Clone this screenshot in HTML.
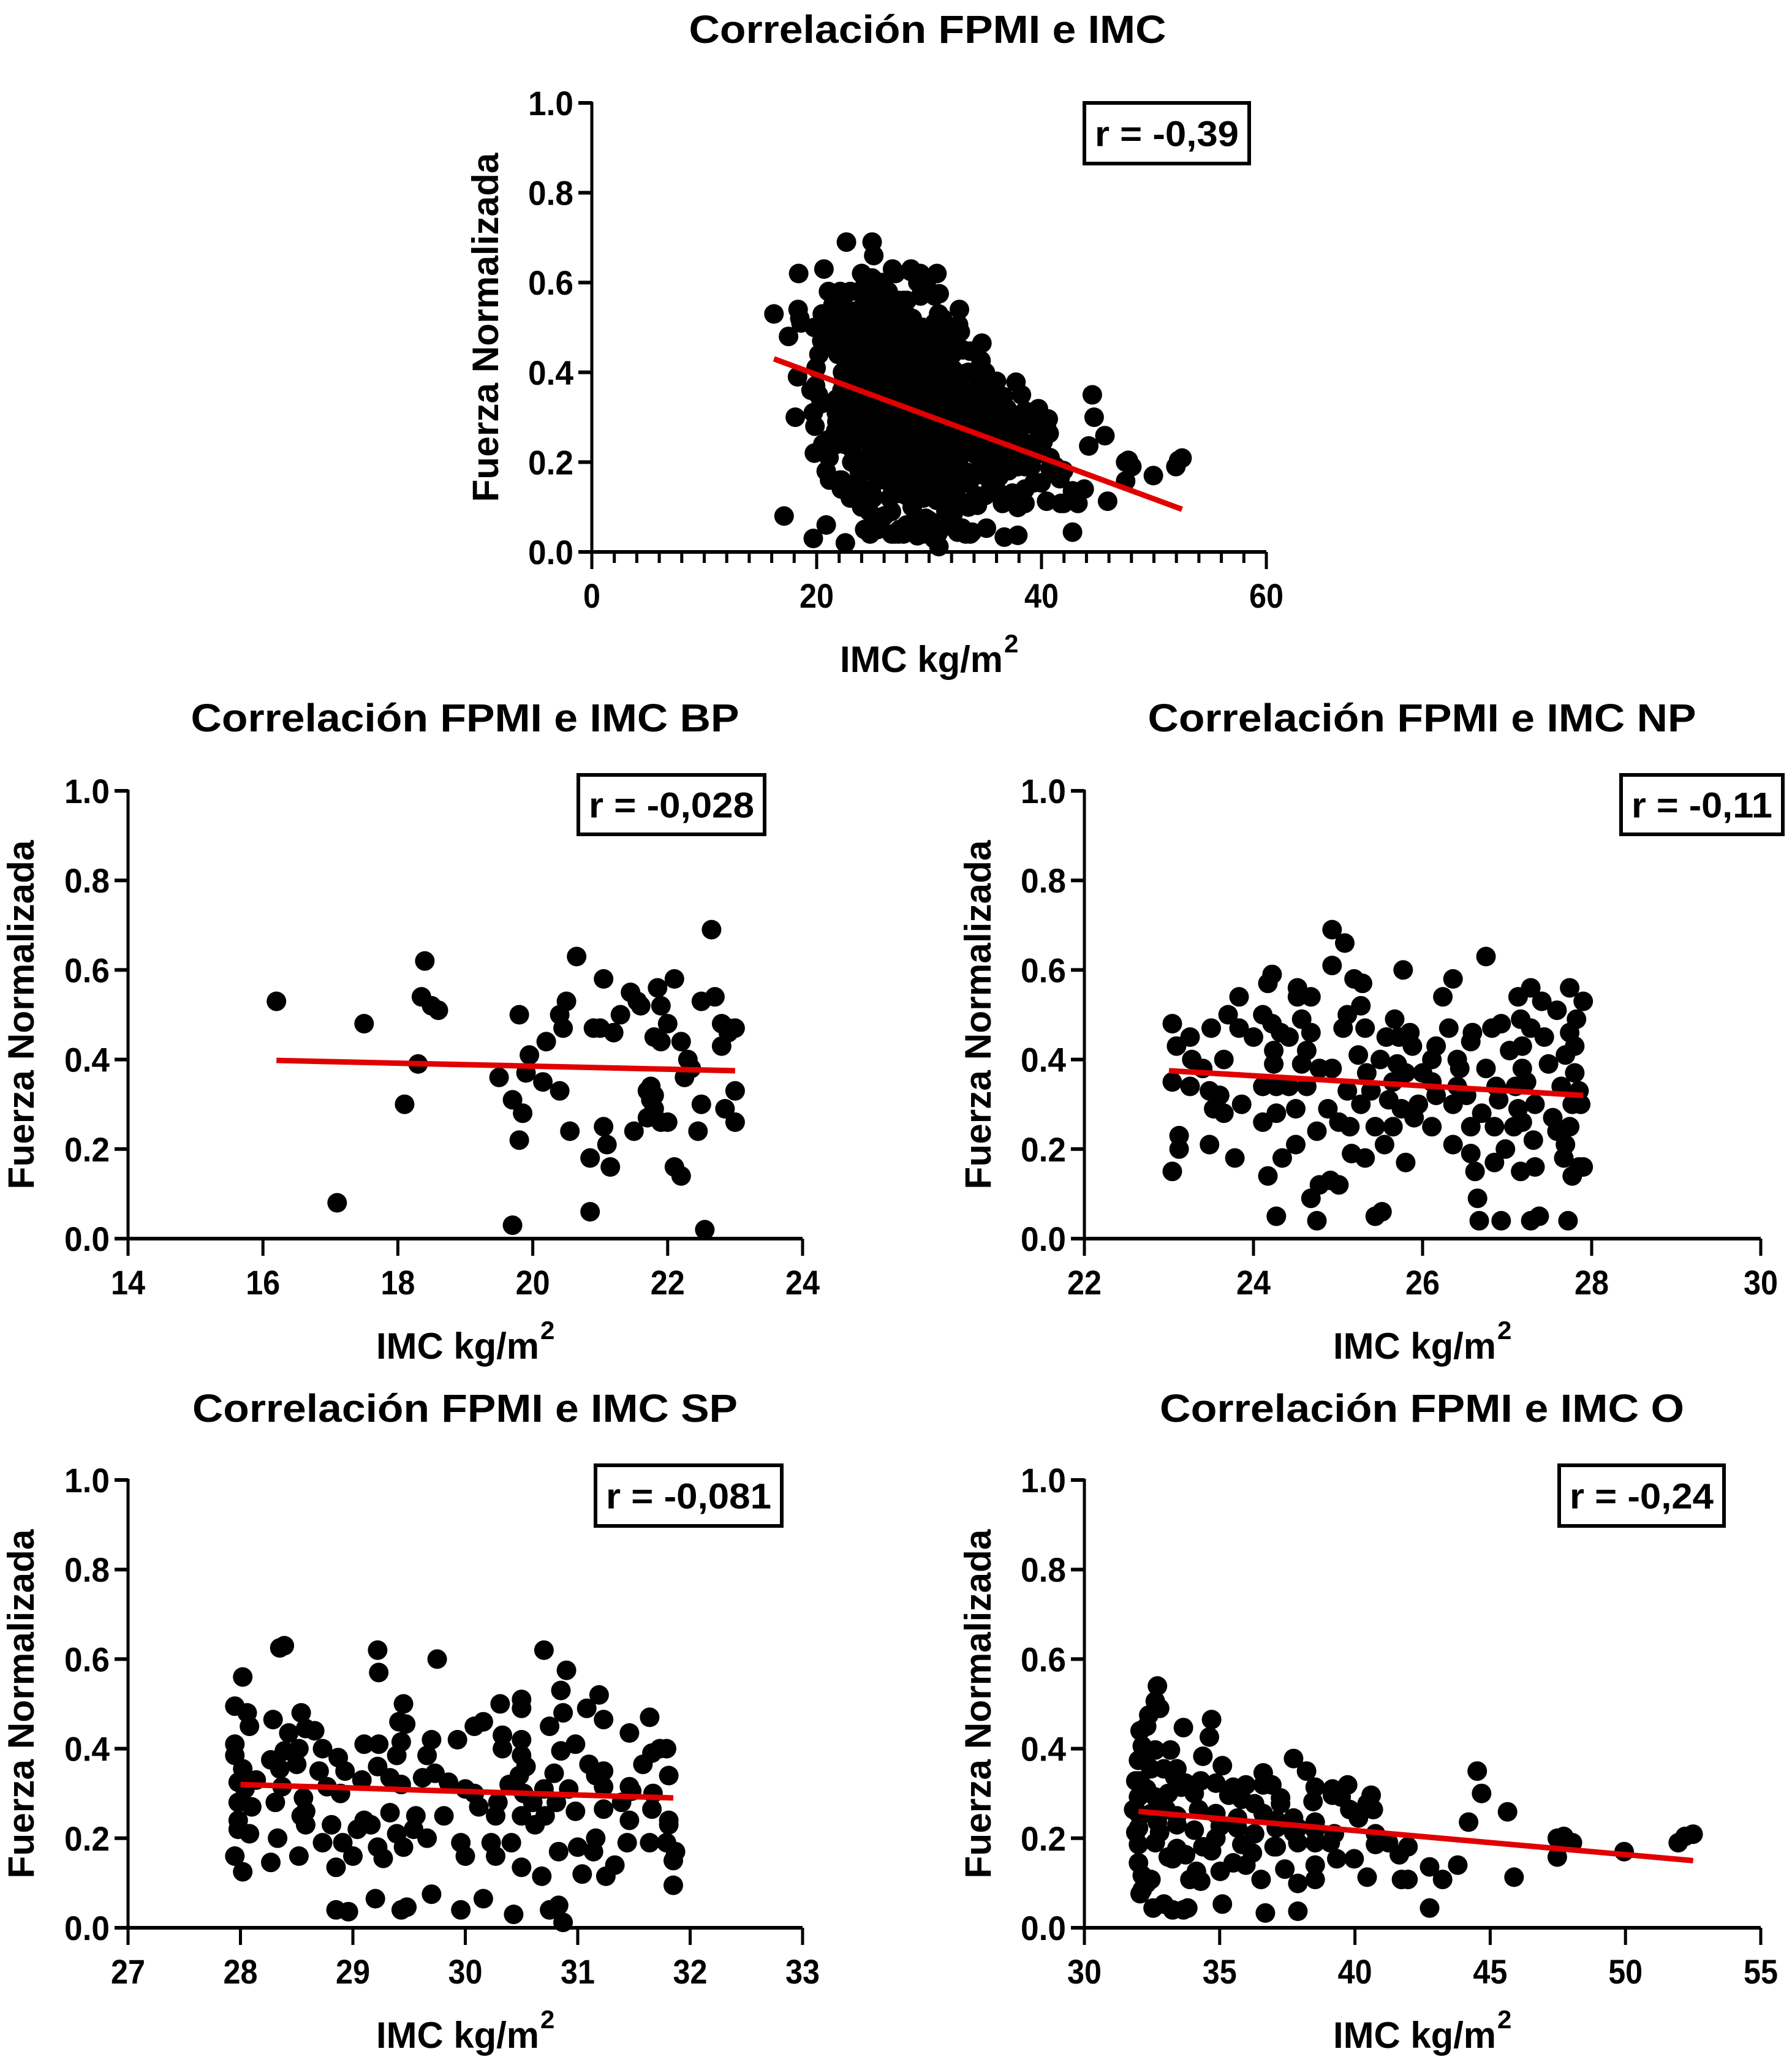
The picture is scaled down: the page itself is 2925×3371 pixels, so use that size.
<!DOCTYPE html>
<html><head><meta charset="utf-8"><title>Correlación FPMI e IMC</title>
<style>
html,body{margin:0;padding:0;background:#fff;}
svg{display:block;}
text{font-family:"Liberation Sans",Arial,sans-serif;font-weight:bold;fill:#000;}
</style></head>
<body>
<svg id="fig" xmlns="http://www.w3.org/2000/svg" width="2925" height="3371" viewBox="0 0 2925 3371"></svg>
<script>
const yTicks = [0, 0.2, 0.4, 0.6, 0.8, 1.0];
const yTickLabels = ["0.0", "0.2", "0.4", "0.6", "0.8", "1.0"];
const xTicksMain = [0, 20, 40, 60];
const xTicksBP = [14, 16, 18, 20, 22, 24];
const xTicksNP = [22, 24, 26, 28, 30];
const xTicksSP = [27, 28, 29, 30, 31, 32, 33];
const xTicksO = [30, 35, 40, 45, 50, 55];
const rLabels = ["r = -0,39", "r = -0,028", "r = -0,11", "r = -0,081", "r = -0,24"];
const titles = ["Correlación FPMI e IMC", "Correlación FPMI e IMC BP", "Correlación FPMI e IMC NP", "Correlación FPMI e IMC SP", "Correlación FPMI e IMC O"];
const fitMain = [16.2, 0.43, 52.5, 0.095];
const fitBP = [16.2, 0.398, 23.0, 0.375];
const fitNP = [23.0, 0.375, 27.9, 0.32];
const fitSP = [28.0, 0.32, 31.85, 0.29];
const fitO = [32.0, 0.26, 52.5, 0.15];

const bpPoints = [[16.2,.53],[17.1,.08],[17.5,.48],[18.1,.30],[18.3,.39],[18.35,.54],[18.4,.62],[18.5,.52],[18.6,.51],[19.5,.36],[19.7,.03],[19.7,.31],[19.8,.22],[19.8,.50],[19.85,.28],[19.9,.37],[19.95,.41],[20.15,.35],[20.2,.44],[20.4,.33],[20.4,.50],[20.45,.47],[20.5,.53],[20.55,.24],[20.65,.63],[20.85,.18],[20.85,.06],[20.9,.47],[21.0,.47],[21.05,.25],[21.05,.58],[21.1,.21],[21.15,.16],[21.2,.46],[21.3,.50],[21.45,.55],[21.5,.24],[21.55,.53],[21.6,.52],[21.7,.33],[21.7,.27],[21.75,.31],[21.8,.45],[21.8,.32],[21.85,.56],[21.9,.44],[21.9,.52],[21.9,.26],[22.0,.48],[22.0,.26],[22.1,.58],[22.1,.16],[22.2,.14],[22.2,.44],[22.25,.36],[22.3,.40],[22.35,.38],[22.45,.24],[22.5,.53],[22.5,.30],[22.55,.02],[22.65,.69],[22.7,.54],[22.8,.43],[22.8,.48],[22.85,.29],[22.9,.46],[23.0,.47],[23.0,.33],[23.0,.26],[21.75,.34],[21.8,.29],[22.9,.47]];

const npPoints = [[23.04,.48],[23.25,.45],[23.09,.43],[23.27,.40],[23.4,.38],[23.04,.35],[23.25,.34],[23.48,.33],[23.6,.32],[23.53,.29],[23.65,.28],[23.86,.30],[23.12,.23],[23.12,.20],[23.48,.21],[23.78,.18],[23.04,.15],[23.5,.47],[23.65,.40],[23.7,.50],[23.83,.54],[23.83,.47],[24.0,.45],[24.11,.50],[24.22,.59],[24.17,.57],[24.22,.48],[24.32,.46],[24.24,.42],[24.42,.45],[24.24,.39],[24.11,.34],[24.27,.34],[24.42,.34],[24.11,.26],[24.27,.28],[24.5,.29],[24.52,.56],[24.52,.54],[24.68,.54],[24.57,.49],[24.68,.46],[24.63,.42],[24.57,.39],[24.63,.34],[24.5,.21],[24.34,.18],[24.17,.14],[24.27,.05],[24.68,.09],[24.78,.12],[24.91,.13],[25.01,.12],[24.75,.04],[24.75,.24],[24.88,.29],[24.93,.38],[24.78,.38],[25.01,.26],[25.14,.25],[25.11,.33],[25.06,.47],[25.11,.50],[24.93,.69],[25.08,.66],[24.93,.61],[25.19,.58],[25.29,.57],[25.27,.52],[25.32,.47],[25.24,.41],[25.34,.37],[25.39,.33],[25.27,.30],[25.44,.25],[25.55,.21],[25.16,.19],[25.32,.18],[25.44,.05],[25.52,.06],[25.8,.17],[25.77,.60],[25.67,.49],[25.57,.45],[25.72,.45],[25.85,.46],[25.5,.40],[25.7,.39],[25.88,.43],[25.65,.35],[25.8,.37],[26.0,.37],[25.6,.31],[25.75,.29],[25.9,.27],[25.65,.25],[26.11,.35],[26.16,.32],[26.11,.25],[25.95,.30],[26.16,.43],[26.11,.40],[26.31,.47],[26.24,.54],[26.36,.58],[26.41,.40],[26.44,.38],[26.41,.34],[26.36,.30],[26.57,.25],[26.36,.21],[26.57,.19],[26.62,.15],[26.65,.09],[26.67,.04],[26.59,.46],[26.57,.44],[26.75,.63],[26.52,.32],[26.7,.28],[26.75,.38],[26.82,.47],[26.93,.48],[26.87,.34],[26.9,.31],[26.85,.25],[26.98,.20],[26.85,.17],[26.93,.04],[27.03,.42],[27.13,.54],[27.28,.56],[27.41,.53],[27.16,.49],[27.28,.47],[27.18,.43],[27.18,.38],[27.1,.34],[27.23,.35],[27.13,.29],[27.33,.30],[27.08,.25],[27.18,.26],[27.31,.22],[27.33,.16],[27.16,.15],[27.38,.05],[27.28,.04],[27.44,.45],[27.49,.39],[27.59,.51],[27.74,.56],[27.9,.53],[27.82,.49],[27.74,.46],[27.8,.43],[27.69,.41],[27.8,.37],[27.64,.34],[27.85,.33],[27.77,.30],[27.54,.27],[27.74,.25],[27.59,.24],[27.69,.21],[27.67,.18],[27.85,.16],[27.77,.14],[27.72,.04],[27.9,.16],[27.87,.30]];

const spPoints = [[28.02,.56],[27.95,.495],[28.06,.48],[28.08,.45],[27.95,.41],[27.95,.385],[28.02,.355],[27.98,.325],[28.04,.31],[27.98,.28],[28.1,.27],[27.98,.24],[27.98,.22],[28.08,.21],[27.95,.16],[28.02,.125],[28.14,.33],[28.35,.625],[28.39,.63],[28.29,.465],[28.43,.435],[28.54,.48],[28.58,.445],[28.66,.44],[28.52,.40],[28.73,.40],[28.27,.375],[28.39,.395],[28.35,.355],[28.5,.365],[28.37,.315],[28.31,.28],[28.56,.29],[28.58,.26],[28.54,.25],[28.58,.23],[28.33,.20],[28.27,.146],[28.52,.16],[28.7,.35],[28.77,.315],[28.87,.38],[28.93,.35],[28.89,.30],[28.81,.23],[28.73,.19],[28.91,.19],[28.85,.135],[29.0,.16],[28.85,.04],[28.96,.036],[29.1,.41],[29.23,.41],[29.08,.33],[29.22,.36],[29.1,.24],[29.04,.22],[29.16,.23],[29.22,.18],[29.27,.155],[29.2,.065],[29.22,.62],[29.23,.57],[29.45,.50],[29.41,.46],[29.47,.455],[29.43,.415],[29.39,.385],[29.33,.335],[29.43,.32],[29.33,.257],[29.39,.21],[29.45,.18],[29.48,.046],[29.43,.04],[29.56,.25],[29.54,.22],[29.66,.20],[29.7,.42],[29.66,.385],[29.62,.335],[29.73,.345],[29.85,.325],[29.75,.60],[29.7,.075],[29.81,.25],[29.93,.42],[29.96,.19],[30.0,.16],[29.96,.04],[30.0,.31],[30.08,.30],[30.12,.27],[30.08,.45],[30.16,.46],[30.23,.19],[30.27,.16],[30.27,.25],[30.29,.28],[30.16,.065],[30.31,.50],[30.33,.43],[30.33,.40],[30.39,.32],[30.41,.19],[30.43,.03],[30.5,.51],[30.5,.49],[30.5,.42],[30.5,.385],[30.54,.36],[30.48,.34],[30.52,.30],[30.5,.25],[30.6,.28],[30.62,.23],[30.5,.135],[30.7,.62],[30.75,.45],[30.7,.31],[30.71,.25],[30.68,.115],[30.75,.04],[30.83,.05],[30.87,.012],[30.9,.575],[30.85,.53],[30.87,.48],[30.85,.395],[30.79,.345],[30.81,.28],[30.92,.31],[30.98,.41],[30.98,.26],[30.83,.17],[31.0,.18],[31.04,.12],[31.08,.49],[31.19,.52],[31.1,.365],[31.16,.34],[31.23,.35],[31.23,.315],[31.23,.265],[31.16,.20],[31.14,.17],[31.33,.14],[31.25,.115],[31.23,.465],[31.39,.28],[31.46,.315],[31.48,.305],[31.46,.24],[31.44,.19],[31.46,.435],[31.64,.47],[31.58,.365],[31.66,.39],[31.73,.40],[31.79,.40],[31.81,.34],[31.67,.30],[31.66,.265],[31.81,.24],[31.81,.23],[31.64,.19],[31.79,.19],[31.87,.17],[31.85,.15],[31.85,.095]];

const oPoints = [[32.7,.54],[32.62,.506],[32.78,.49],[32.38,.475],[32.06,.44],[32.3,.45],[33.66,.447],[34.7,.465],[34.62,.426],[32.14,.406],[32.62,.397],[33.18,.397],[32.0,.374],[32.46,.355],[32.94,.355],[34.38,.383],[35.1,.362],[33.34,.337],[33.74,.323],[34.3,.328],[34.86,.323],[32.06,.328],[32.3,.31],[32.0,.292],[32.62,.292],[33.1,.30],[34.06,.30],[35.34,.296],[35.97,.319],[36.61,.346],[36.61,.319],[37.73,.378],[38.21,.35],[38.53,.314],[39.17,.31],[39.73,.319],[40.6,.296],[39.49,.292],[38.45,.282],[37.25,.277],[36.29,.277],[35.82,.287],[32.0,.255],[32.46,.255],[33.42,.25],[34.22,.264],[34.86,.255],[35.66,.245],[36.61,.255],[37.09,.24],[37.73,.245],[38.53,.236],[39.81,.264],[40.13,.245],[40.68,.264],[32.0,.223],[32.78,.213],[33.42,.23],[34.06,.218],[35.02,.227],[35.66,.223],[36.29,.21],[37.09,.223],[37.73,.213],[38.53,.218],[39.24,.21],[40.76,.21],[32.0,.186],[32.62,.19],[33.42,.177],[34.38,.181],[34.86,.20],[35.82,.186],[37.09,.181],[37.89,.19],[38.53,.19],[39.09,.19],[40.76,.186],[41.24,.19],[41.96,.181],[41.64,.163],[33.1,.158],[33.74,.163],[34.7,.172],[36.21,.167],[37.01,.181],[39.33,.154],[39.97,.154],[32.0,.145],[33.26,.154],[35.5,.145],[35.97,.14],[35.02,.126],[38.53,.14],[37.41,.131],[34.14,.126],[32.14,.117],[32.46,.108],[33.9,.108],[34.3,.104],[36.53,.108],[38.53,.108],[37.89,.099],[40.45,.113],[41.72,.108],[41.96,.108],[42.76,.136],[43.24,.108],[43.8,.14],[45.88,.113],[44.2,.236],[44.52,.35],[44.68,.30],[45.64,.259],[47.48,.20],[47.72,.204],[48.04,.19],[47.48,.158],[49.95,.17],[51.95,.19],[52.2,.204],[52.5,.209],[32.06,.076],[32.54,.044],[32.94,.053],[33.26,.04],[33.66,.04],[33.82,.044],[35.1,.053],[36.69,.033],[37.89,.037],[42.76,.044],[32.14,.085],[32.3,.099],[31.9,.213],[31.9,.328],[32.14,.383],[33.42,.355],[33.58,.314],[35.5,.314],[36.93,.319],[37.25,.29],[37.89,.223],[39.17,.296],[40.45,.277],[33.02,.264],[32.7,.236],[31.82,.264]];

// additional points visible only in the overall chart's dense core
const mainExtraPoints = [[21.5,.55],[22.5,.50],[23.5,.52],[24.5,.45],[25.5,.44],[26.5,.50],[27.5,.42],[28.5,.52],[29.5,.46],[30.5,.40],[31.5,.42],[32.5,.38],[33.5,.40],[34.5,.36],[22.5,.40],[23.5,.36],[24.5,.32],[25.5,.28],[26.5,.26],[27.5,.22],[28.5,.20],[29.5,.25],[30.5,.22],[31.5,.26],[32.5,.20],[33.5,.24],[34.5,.21],[35.5,.25],[36.5,.23],[22.5,.30],[23.5,.26],[24.5,.20],[25.5,.16],[26.5,.12],[27.5,.13],[28.5,.10],[29.5,.12],[30.5,.14],[31.5,.09],[32.5,.12],[33.5,.10],[21.8,.24],[22.2,.16],[23.0,.12],[24.0,.10],[26.0,.08],[28.0,.06],[30.0,.07],[31.0,.05],[32.0,.06],[29.0,.30],[28.0,.36],[27.0,.40],[26.0,.48],[30.0,.35],[31.0,.32],[33.0,.30],[34.0,.28],[35.0,.30],[36.0,.33],[37.0,.30],[38.0,.26],[39.0,.24],[40.0,.22],[24.0,.62],[27.0,.62],[29.0,.60],[30.5,.57],[23.0,.58],[25.0,.40],[26.0,.36],[28.0,.30],[29.0,.40],[31.0,.44],[32.0,.48],[33.0,.45],[35.0,.40],[36.0,.38]];

const NS = "http://www.w3.org/2000/svg";
const fig = document.getElementById("fig");
function mk(tag, attrs, parent) {
  const e = document.createElementNS(NS, tag);
  for (const k in attrs) e.setAttribute(k, attrs[k]);
  (parent || fig).appendChild(e);
  return e;
}

function drawChart(c) {
  const g = mk("g", {});
  
  
  const sx = v => c.left + (v - c.xmin) / (c.xmax - c.xmin) * (c.right - c.left);
  const sy = v => c.bottom - v * (c.bottom - c.top);

  const t = mk("text", {x: c.titleX, y: c.titleY, "text-anchor": "middle", "font-size": 64, textLength: c.titleW, lengthAdjust: "spacingAndGlyphs"}, g);
  t.textContent = c.title;
  
  

  const pg = mk("g", {fill: "#000"}, g);
  
  
  c.points.forEach(p => {
    const d = mk("circle", {cx: sx(p[0]).toFixed(1), cy: sy(p[1]).toFixed(1), r: 16}, pg);
    
    
  });

  const fl = mk("line", {x1: sx(c.fit[0]), y1: sy(c.fit[1]), x2: sx(c.fit[2]), y2: sy(c.fit[3]), stroke: "#e00000", "stroke-width": 9}, g);
  
  

  const ya = mk("line", {x1: c.left, y1: c.top - 2, x2: c.left, y2: c.bottom, stroke: "#000", "stroke-width": 5}, g);
  
  
  yTicks.forEach((v, i) => {
    const tk = mk("line", {x1: c.left - 22, y1: sy(v), x2: c.left, y2: sy(v), stroke: "#000", "stroke-width": 6}, g);
    
    
    const tl = mk("text", {x: c.left - 30, y: sy(v) + 20, "text-anchor": "end", "font-size": 56, textLength: 74, lengthAdjust: "spacingAndGlyphs"}, g);
    tl.textContent = yTickLabels[i];
    
    
  });

  const xa = mk("line", {x1: c.left - 22, y1: c.bottom, x2: c.right, y2: c.bottom, stroke: "#000", "stroke-width": 6}, g);
  
  
  if (c.minorStep) {
    for (let v = c.xmin; v <= c.xmax + 1e-9; v += c.minorStep) {
      const mt = mk("line", {x1: sx(v), y1: c.bottom, x2: sx(v), y2: c.bottom + 18, stroke: "#000", "stroke-width": 5}, g);
      
      
    }
  }
  c.xTicks.forEach(v => {
    const tk = mk("line", {x1: sx(v), y1: c.bottom, x2: sx(v), y2: c.bottom + 28, stroke: "#000", "stroke-width": 5}, g);
    
    
    const s = String(v);
    const tl = mk("text", {x: sx(v), y: c.bottom + 91, "text-anchor": "middle", "font-size": 56, textLength: s.length * 28, lengthAdjust: "spacingAndGlyphs"}, g);
    tl.textContent = s;
    
    
  });

  const xt = mk("text", {x: c.xLabelX - 12, y: c.bottom + 196, "text-anchor": "middle", "font-size": 60, textLength: 266, lengthAdjust: "spacingAndGlyphs"}, g);
  xt.textContent = "IMC kg/m";
  
  
  const sup = mk("text", {x: c.xLabelX + 123, y: c.bottom + 164, "font-size": 42}, g);
  sup.textContent = "2";
  
  

  const yc = (c.top + c.bottom) / 2;
  const yt = mk("text", {x: 0, y: 0, "text-anchor": "middle", "font-size": 60, textLength: 570, lengthAdjust: "spacingAndGlyphs", transform: "translate(" + (c.yLabelX + 21) + "," + yc + ") rotate(-90)"}, g);
  yt.textContent = "Fuerza Normalizada";
  
  

  const bx = mk("rect", {x: c.box[0], y: c.box[1], width: c.box[2] - c.box[0], height: c.box[3] - c.box[1], fill: "#fff", stroke: "#000", "stroke-width": 6}, g);
  
  
  const bt = mk("text", {x: (c.box[0] + c.box[2]) / 2, y: (c.box[1] + c.box[3]) / 2 + 21, "text-anchor": "middle", "font-size": 58, textLength: c.box[2] - c.box[0] - 34, lengthAdjust: "spacingAndGlyphs"}, g);
  bt.textContent = c.r;
  
  
}

const allPoints = bpPoints.concat(npPoints, spPoints, oPoints, mainExtraPoints);

drawChart({name: "chart-overall", title: titles[0], titleX: 1514, titleY: 70, titleW: 779,
  left: 966, right: 2067, top: 168, bottom: 901, xmin: 0, xmax: 60, xTicks: xTicksMain, minorStep: 2,
  points: allPoints, fit: fitMain, xLabelX: 1516, yLabelX: 792, box: [1770, 168, 2039, 267], r: rLabels[0]});
drawChart({name: "chart-bp", title: titles[1], titleX: 759, titleY: 1194, titleW: 895,
  left: 209, right: 1310, top: 1291, bottom: 2022, xmin: 14, xmax: 24, xTicks: xTicksBP,
  points: bpPoints, fit: fitBP, xLabelX: 759, yLabelX: 34, box: [944, 1265, 1248, 1362], r: rLabels[1]});
drawChart({name: "chart-np", title: titles[2], titleX: 2321, titleY: 1194, titleW: 895,
  left: 1770, right: 2874, top: 1291, bottom: 2022, xmin: 22, xmax: 30, xTicks: xTicksNP,
  points: npPoints, fit: fitNP, xLabelX: 2321, yLabelX: 1596, box: [2646, 1265, 2910, 1362], r: rLabels[2]});
drawChart({name: "chart-sp", title: titles[3], titleX: 759, titleY: 2321, titleW: 890,
  left: 209, right: 1310, top: 2416, bottom: 3147, xmin: 27, xmax: 33, xTicks: xTicksSP,
  points: spPoints, fit: fitSP, xLabelX: 759, yLabelX: 34, box: [972, 2392, 1276, 2491], r: rLabels[3]});
drawChart({name: "chart-o", title: titles[4], titleX: 2321, titleY: 2321, titleW: 856,
  left: 1770, right: 2874, top: 2416, bottom: 3147, xmin: 30, xmax: 55, xTicks: xTicksO,
  points: oPoints, fit: fitO, xLabelX: 2321, yLabelX: 1596, box: [2545, 2392, 2814, 2491], r: rLabels[4]});
</script>
</body></html>
